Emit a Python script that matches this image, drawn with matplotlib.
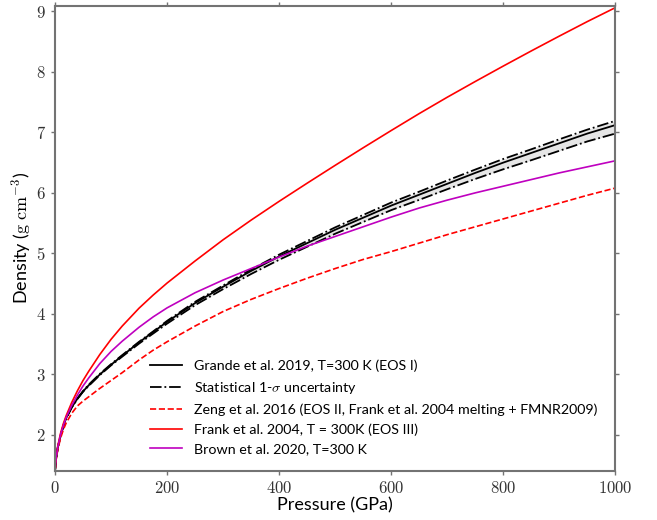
import numpy as np
import matplotlib
matplotlib.use("Agg")
from matplotlib import pyplot as plt
from matplotlib.ticker import FuncFormatter

# pressure grid (GPa) and densities (g/cm^3)
pressure = [0, 2, 5, 10, 15, 20, 30, 40, 50, 60, 80, 100, 120, 150, 175, 200,
            250, 300, 350, 400, 450, 500, 550, 600, 650, 700, 750, 800, 850,
            900, 950, 1000]

grande = [1.40, 1.61, 1.79, 1.99, 2.15, 2.28, 2.46, 2.60, 2.72, 2.82, 3.00,
          3.16, 3.31, 3.53, 3.70, 3.87, 4.18, 4.45, 4.71, 4.95, 5.17, 5.39,
          5.59, 5.79, 5.97, 6.15, 6.33, 6.50, 6.66, 6.82, 6.98, 7.12]
grande_up = [1.40, 1.61, 1.79, 1.995, 2.155, 2.285, 2.465, 2.605, 2.725, 2.83,
             3.01, 3.17, 3.32, 3.54, 3.71, 3.885, 4.20, 4.47, 4.735, 4.98,
             5.205, 5.43, 5.635, 5.84, 6.02, 6.205, 6.385, 6.56, 6.72, 6.885,
             7.045, 7.19]
grande_lo = [1.40, 1.61, 1.79, 1.985, 2.145, 2.275, 2.455, 2.595, 2.715, 2.81,
             2.99, 3.15, 3.295, 3.51, 3.675, 3.84, 4.145, 4.41, 4.66, 4.895,
             5.11, 5.325, 5.52, 5.715, 5.885, 6.06, 6.23, 6.39, 6.54, 6.695,
             6.85, 6.98]

zeng = [1.40, 1.59, 1.76, 1.95, 2.09, 2.20, 2.36, 2.48, 2.56, 2.63, 2.77,
        2.90, 3.03, 3.24, 3.40, 3.54, 3.80, 4.04, 4.24, 4.42, 4.59, 4.75,
        4.90, 5.03, 5.17, 5.31, 5.44, 5.57, 5.70, 5.83, 5.96, 6.08]

frank = [1.40, 1.63, 1.82, 2.03, 2.19, 2.32, 2.54, 2.73, 2.90, 3.05, 3.33,
         3.58, 3.80, 4.095, 4.31, 4.51, 4.875, 5.225, 5.55, 5.86, 6.16, 6.455,
         6.745, 7.03, 7.31, 7.58, 7.84, 8.095, 8.345, 8.59, 8.83, 9.06]

brown = [1.40, 1.62, 1.80, 2.01, 2.16, 2.29, 2.49, 2.66, 2.81, 2.94, 3.18,
         3.38, 3.55, 3.78, 3.95, 4.10, 4.35, 4.56, 4.75, 4.94, 5.12, 5.28,
         5.44, 5.60, 5.75, 5.88, 6.00, 6.11, 6.22, 6.33, 6.43, 6.53]

plt.rcParams["font.family"] = ["Lato", "DejaVu Sans"]
plt.rcParams["mathtext.fontset"] = "cm"

fig = plt.figure(figsize=(6.57, 5.2), dpi=100)
ax = fig.add_axes([0.0837, 0.0942, 0.853, 0.895])

ax.fill_between(pressure, grande_lo, grande_up, color="0.9", lw=0)
ax.plot(pressure, grande, color="k", lw=1.3, label="Grande et al. 2019, T=300 K (EOS I)")
ax.plot(pressure, grande_up, color="k", lw=1.3, ls="-.", label=r"Statistical 1-$\sigma$ uncertainty")
ax.plot(pressure, grande_lo, color="k", lw=1.3, ls="-.")
ax.plot(pressure, zeng, color="r", lw=1.2, ls="--",
        label="Zeng et al. 2016 (EOS II, Frank et al. 2004 melting + FMNR2009)")
ax.plot(pressure, frank, color="r", lw=1.2, label="Frank et al. 2004, T = 300K (EOS III)")
ax.plot(pressure, brown, color="m", lw=1.2, label="Brown et al. 2020, T=300 K")

ax.set_xlim(0, 1000)
ax.set_ylim(1.405, 9.093)
ax.set_xticks([0, 200, 400, 600, 800, 1000])
ax.set_yticks([2, 3, 4, 5, 6, 7, 8, 9])
fmt = FuncFormatter(lambda v, pos: "$%d$" % v)
ax.xaxis.set_major_formatter(fmt)
ax.yaxis.set_major_formatter(fmt)
ax.tick_params(direction="out", length=3, width=1, color="0.45", labelsize=12,
               top=True, right=True, labelcolor="0.2")

for s in ax.spines.values():
    s.set_color("0.45")
    s.set_linewidth(1.5)

ax.set_xlabel("Pressure (GPa)", fontsize=13, labelpad=1)
ax.set_ylabel(r"Density ($\mathrm{g\ cm^{-3}}$)", fontsize=13, labelpad=2)

ax.legend(loc="lower left", bbox_to_anchor=(0.17, 0.034), frameon=False,
          fontsize=10.3, handlelength=2.2, handletextpad=0.85, borderpad=0,
          borderaxespad=0, labelspacing=0.52)

fig.savefig("out.png", dpi=100)
